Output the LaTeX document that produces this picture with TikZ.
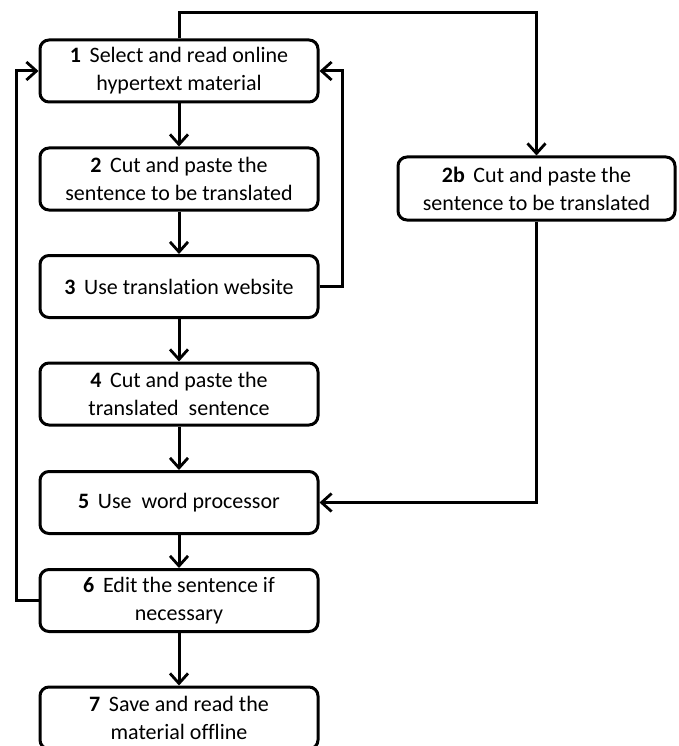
\documentclass[tikz,border=0pt]{standalone}
\usepackage{fontspec}
\setmainfont[Ligatures=NoCommon]{Carlito}
\usetikzlibrary{arrows.meta}
\tikzset{
  stepbox/.style={draw=black, line width=3pt, rounded corners=9pt, fill=white,
    minimum width=278pt, minimum height=62pt, inner sep=0pt, align=center,
    font=\fontsize{22}{28}\selectfont, text=black},
  conn/.style={draw=black, line width=3pt},
  arr/.style={conn, -{Straight Barb[length=10pt,width=18pt,line width=2.8pt]}},
}
\begin{document}
\begin{tikzpicture}[x=1pt,y=-1pt]
\useasboundingbox (0,0) rectangle (678,746);
\clip (0,0) rectangle (678,746);
\fill[white] (0,0) rectangle (678,746);
\node[stepbox] (n1) at (179,71) {\textbf{1}\, Select and read online\\hypertext material};
\node[stepbox] (n2) at (179,179) {\textbf{2}\, Cut and paste the\\sentence to be translated};
\node[stepbox] (n3) at (179,286.5) {\textbf{3}\, Use translation website};
\node[stepbox] (n4) at (179,394) {\textbf{4}\, Cut and paste the\\translated\ \ sentence};
\node[stepbox] (n5) at (179,502.5) {\textbf{5}\, Use\ \ word processor};
\node[stepbox] (n6) at (179,600.5) {\textbf{6}\, Edit the sentence if\\necessary};
\node[stepbox] (n7) at (179,718) {\textbf{7}\, Save and read the\\material offline};
\node[stepbox, minimum width=277pt, minimum height=63pt] (n2b) at (536.5,188.5) {\textbf{2b}\, Cut and paste the\\sentence to be translated};
\coordinate (tl) at (179,13);
\coordinate (tr) at (536.5,13);
\coordinate (ll) at (16,600.5);
\coordinate (lu) at (16,71);
\coordinate (rr) at (342,286.5);
\coordinate (ru) at (342,71);
\coordinate (bd) at (536.5,502.5);
\draw[arr] (n1) -- (n2);
\draw[arr] (n2) -- (n3);
\draw[arr] (n3) -- (n4);
\draw[arr] (n4) -- (n5);
\draw[arr] (n5) -- (n6);
\draw[arr] (n6) -- (n7);
\draw[arr] (n1.north) -- (tl) -- (tr) -- (n2b.north);
\draw[arr] (n6.west) -- (ll) -- (lu) -- (n1.west);
\draw[arr] (n3.east) -- (rr) -- (ru) -- (n1.east);
\draw[arr] (n2b.south) -- (bd) -- (n5.east);
\end{tikzpicture}
\end{document}
